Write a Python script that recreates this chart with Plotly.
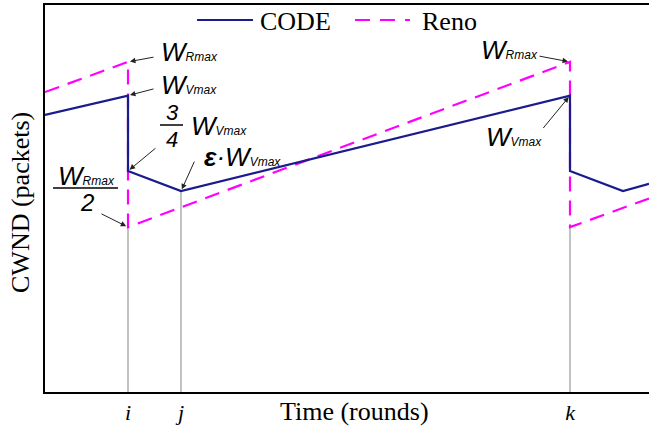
import plotly.graph_objects as go

# ---- data (time in rounds, CWND in arbitrary units) ----
code_t = [0, 8.3, 8.3, 13.6, 52.5, 52.5, 57.8, 60.4]
code_w = [71.6, 76.6, 57.1, 51.9, 76.6, 57.1, 51.9, 53.8]
reno_t = [0, 8.3, 8.3, 52.5, 52.5, 60.4]
reno_w = [77.5, 85.3, 42.6, 85.3, 42.6, 50.0]
tick_t = [8.3, 13.6, 52.5]
tick_labels = ["i", "j", "k"]
guide_top = [42.6, 51.9, 42.6]

W, H = 649, 431
ML, MR, MT, MB = 45, 0, 5, 39
XMAX, YMAX = 60.4, 100.0
PW, PH = W - ML - MR, H - MT - MB


def X(px):
    return (px - ML) / PW * XMAX


def Y(py):
    return (H - MB - py) / PH * YMAX


def PX(px):
    return (px - ML) / PW


def PY(py):
    return (H - MB - py) / PH


NAVY = "#1b1b8e"
MAG = "#ff00ff"

fig = go.Figure()
# guide lines at i, j, k
for t, top in zip(tick_t, guide_top):
    fig.add_trace(go.Scatter(x=[t, t], y=[0, top], mode="lines",
                             line=dict(color="#9a9a9a", width=1.2),
                             showlegend=False, hoverinfo="skip"))
fig.add_trace(go.Scatter(x=reno_t, y=reno_w, mode="lines", name="Reno",
                         line=dict(color=MAG, width=2.2, dash="15px,9px"),
                         showlegend=False))
fig.add_trace(go.Scatter(x=code_t, y=code_w, mode="lines", name="CODE",
                         line=dict(color=NAVY, width=2.2),
                         showlegend=False))

SANS = "Liberation Sans, Arial, Helvetica, sans-serif"
SERIF = "Liberation Serif, Times New Roman, serif"


def wlab(sub):
    return "W<span style='font-size:12px'>%s</span>" % sub


ann = []


def text(px, py, s, size=26, family=SANS, style="italic", xanchor="center"):
    ann.append(dict(x=X(px), y=Y(py), xref="x", yref="y", text=s, showarrow=False,
                    xanchor=xanchor, yanchor="middle",
                    font=dict(family=family, size=size, color="black", style=style)))


def arrow(tx, ty, ax, ay):
    ann.append(dict(x=tx, y=ty, xref="x", yref="y", text="", showarrow=True,
                    ax=ax, ay=ay, arrowhead=2, arrowsize=1.1, arrowwidth=1,
                    arrowcolor="#222", standoff=2))


# labels
text(189, 52, wlab("Rmax"))
text(189, 85, wlab("Vmax"))
text(172, 112, "3", size=22)
text(172, 139, "4", size=22)
text(219, 126, wlab("Vmax"))
text(242, 157, "<b>ε</b>·" + wlab("Vmax"))
text(86, 176, wlab("Rmax"))
text(87, 202, "2", size=24)
text(509, 50, wlab("Rmax"))
text(514, 137, wlab("Vmax"))

# arrows pointing to data points
arrow(reno_t[1], reno_w[1], 27, -5)
arrow(code_t[1], code_w[1], 27, -7)
arrow(code_t[2], code_w[2], 29, -24)
arrow(code_t[3], code_w[3], 14, -31)
arrow(reno_t[2], reno_w[2], -28, -14)
arrow(reno_t[3], reno_w[3], -32, -6)
arrow(code_t[4], code_w[4], -28, 34)

shapes = [
    # fraction bars
    dict(type="line", xref="x", yref="y", x0=X(160), x1=X(183), y0=Y(125), y1=Y(125),
         line=dict(color="black", width=1.5)),
    dict(type="line", xref="x", yref="y", x0=X(53), x1=X(118), y0=Y(188), y1=Y(188),
         line=dict(color="black", width=1.5)),
    # manual legend samples
    dict(type="line", xref="paper", yref="paper", x0=PX(197), x1=PX(253), y0=PY(20), y1=PY(20),
         line=dict(color=NAVY, width=2.2)),
    dict(type="line", xref="paper", yref="paper", x0=PX(355), x1=PX(410), y0=PY(20), y1=PY(20),
         line=dict(color=MAG, width=2.2, dash="15px,10px")),
]

ann.append(dict(x=PX(258), y=PY(21), xref="paper", yref="paper", text="CODE", showarrow=False,
                xanchor="left", yanchor="middle", font=dict(family=SERIF, size=26, color="black")))
ann.append(dict(x=PX(420), y=PY(21), xref="paper", yref="paper", text="Reno", showarrow=False,
                xanchor="left", yanchor="middle", font=dict(family=SERIF, size=26, color="black")))
# axis titles
ann.append(dict(x=PX(354), y=PY(411), xref="paper", yref="paper", text="Time (rounds)",
                showarrow=False, xanchor="center", yanchor="middle",
                font=dict(family=SERIF, size=26, color="black")))
ann.append(dict(x=PX(20), y=PY(203), xref="paper", yref="paper", text="CWND (packets)",
                showarrow=False, xanchor="center", yanchor="middle", textangle=-90,
                font=dict(family=SERIF, size=26, color="black")))

fig.update_layout(
    width=W, height=H,
    margin=dict(l=ML, r=MR, t=MT, b=MB, pad=0),
    paper_bgcolor="white", plot_bgcolor="white",
    showlegend=False,
    annotations=ann, shapes=shapes,
    xaxis=dict(range=[0, XMAX], showgrid=False, zeroline=False, showline=True,
               linecolor="black", linewidth=2, mirror=True, ticks="",
               tickvals=tick_t, ticktext=tick_labels,
               tickfont=dict(family=SERIF, size=22, color="black", style="italic")),
    yaxis=dict(range=[0, YMAX], showgrid=False, zeroline=False, showline=True,
               linecolor="black", linewidth=2, ticks="", showticklabels=False),
)

fig.write_html("out.html")
